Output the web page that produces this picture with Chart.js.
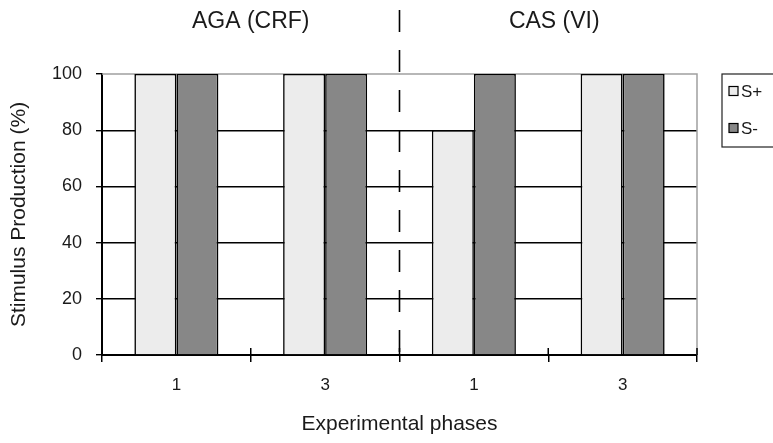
<!DOCTYPE html>
<html>
<head>
<meta charset="utf-8">
<script src="https://cdn.jsdelivr.net/npm/chart.js@4/dist/chart.umd.min.js"></script>
<style>
  html, body { margin: 0; padding: 0; background: #fff; }
  #wrap { position: relative; width: 773px; height: 443px; }
</style>
</head>
<body>
<div id="wrap"><canvas id="ctx"></canvas></div>
<script>
// data
const phases = ["1", "3", "1", "3"];
const groups = ["AGA (CRF)", "CAS (VI)"];
const sPlus = [100, 100, 80, 100];
const sMinus = [100, 100, 100, 100];
const yTicks = [0, 20, 40, 60, 80, 100];

const FONT = "'Liberation Sans', Arial, sans-serif";
const ink = "#1a1a1a";

// dashed divider, group labels, plot border and the boxed legend
const extras = {
    id: "extras",
    beforeDatasetsDraw(chart) {
        const c = chart.ctx, a = chart.chartArea;
        c.save();
        c.strokeStyle = "#a0a0a0";
        c.lineWidth = 1.5;
        c.beginPath();
        c.moveTo(a.left, a.top);
        c.lineTo(a.right, a.top);
        c.lineTo(a.right, a.bottom);
        c.stroke();
        c.restore();
    },
    afterDraw(chart) {
        const c = chart.ctx, a = chart.chartArea, x = chart.scales.x;
        c.save();
        // little tick stubs above the x axis at category edges
        c.strokeStyle = "#000";
        c.lineWidth = 1.5;
        for (let i = 0; i <= phases.length; i++) {
            const px = x.getPixelForValue(i - 0.5);
            c.beginPath();
            c.moveTo(px, a.bottom - 7);
            c.lineTo(px, a.bottom);
            c.stroke();
        }
        // dashed divider between the two subjects
        const mid = x.getPixelForValue(1.5);
        c.setLineDash([22, 18]);
        c.lineWidth = 1.6;
        c.beginPath();
        c.moveTo(mid, 10);
        c.lineTo(mid, a.bottom);
        c.stroke();
        c.setLineDash([]);
        // group labels
        c.fillStyle = ink;
        c.font = "23px " + FONT;
        c.textAlign = "center";
        c.textBaseline = "middle";
        c.fillText(groups[0], x.getPixelForValue(0.5), 22);
        c.fillText(groups[1], x.getPixelForValue(2.5) + 6, 22);
        // legend box
        const lx = a.right + 25, ly = a.top;
        c.fillStyle = "#fff";
        c.fillRect(lx, ly, 90, 73);
        c.strokeStyle = "#222";
        c.lineWidth = 1.2;
        c.strokeRect(lx, ly, 90, 73);
        c.font = "17px " + FONT;
        c.textAlign = "left";
        chart.data.datasets.forEach((ds, i) => {
            const cy = ly + 17 + i * 37;
            c.fillStyle = ds.backgroundColor;
            c.fillRect(lx + 7, cy - 4.5, 9, 9);
            c.strokeStyle = "#000";
            c.lineWidth = 1.2;
            c.strokeRect(lx + 7, cy - 4.5, 9, 9);
            c.fillStyle = ink;
            c.fillText(ds.label, lx + 19, cy + 1);
        });
        c.restore();
    }
};

new Chart("ctx", {
    type: "bar",
    data: {
        labels: phases,
        datasets: [
            { label: "S+", data: sPlus, backgroundColor: "#ececec", borderColor: "#000", borderWidth: 1.6 },
            { label: "S-", data: sMinus, backgroundColor: "#878787", borderColor: "#000", borderWidth: 1.6 }
        ]
    },
    options: {
        responsive: true,
        maintainAspectRatio: false,
        animation: false,
        layout: { padding: { top: 74, right: 76, left: 0, bottom: 0 } },
        plugins: { legend: { display: false }, tooltip: { enabled: false } },
        datasets: { bar: { categoryPercentage: 0.565, barPercentage: 1.0 } },
        scales: {
            x: {
                afterFit: (s) => { s.height = 88; },
                grid: { offset: true, drawOnChartArea: false, tickLength: 7, color: "#000", lineWidth: 1.5 },
                border: { color: "#000", width: 2 },
                ticks: { color: ink, font: { family: FONT, size: 17 }, padding: 13 },
                title: {
                    display: true, text: "Experimental phases", color: ink,
                    font: { family: FONT, size: 21 }, padding: { top: 4, bottom: 6 }
                }
            },
            y: {
                min: 0, max: 100,
                afterFit: (s) => { s.width = 102; },
                afterBuildTicks: (s) => { s.ticks = yTicks.map(v => ({ value: v })); },
                grid: {
                    color: (g) => g.tick && g.tick.value === 100 ? "rgba(0,0,0,0)" : "#000",
                    tickColor: "#000", lineWidth: 1.4, tickLength: 6
                },
                border: { color: "#000", width: 2 },
                ticks: { color: ink, font: { family: FONT, size: 18 }, padding: 14 },
                title: {
                    display: true, text: "Stimulus Production (%)", color: ink,
                    font: { family: FONT, size: 21 }, padding: { top: 7, bottom: 4 }
                }
            }
        }
    },
    plugins: [extras]
});
</script>
</body>
</html>
